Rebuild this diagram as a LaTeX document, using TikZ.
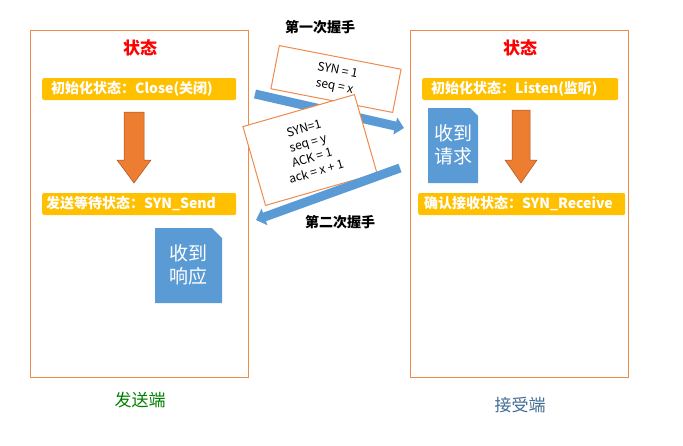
\documentclass[tikz,border=0pt]{standalone}
\usepackage{fontspec}
\setmainfont{Noto Sans CJK SC}
\usetikzlibrary{arrows.meta}
\definecolor{obord}{HTML}{F08A4B}
\definecolor{ybar}{HTML}{FFC000}
\definecolor{bnote}{HTML}{5B9BD5}
\definecolor{oarrow}{HTML}{ED7D31}
\tikzset{
 panel/.style={draw=obord,line width=1pt},
 bar/.style={fill=ybar,rounded corners=2pt,text=white,font=\fontsize{14}{15}\selectfont\bfseries,inner sep=0pt,minimum height=22pt,anchor=west,text width=#1,align=left},
 title/.style={text=red,font=\fontsize{17}{18}\selectfont\bfseries},
 msg/.style={draw=obord,fill=white,line width=1pt,align=center,font=\fontsize{12}{14}\selectfont,inner sep=0pt},
 lbl/.style={font=\fontsize{14}{15}\selectfont\bfseries},
 notetext/.style={text=white,font=\fontsize{19}{23}\selectfont,align=center},
 flow/.style={-{Triangle[length=9pt,width=17pt]},line width=9pt,draw=bnote},
 down/.style={fill=oarrow,draw=oarrow!70!black,line width=0.5pt},
}
\begin{document}
\begin{tikzpicture}[x=1pt,y=-1pt]
\useasboundingbox[fill=white] (0,0) rectangle (683,445);
\draw[panel] (30,30) rectangle (248,377);
\draw[panel] (410,30) rectangle (628,377);
\node[title] (t1) at (140,48) {状态};
\node[title] (t2) at (520,48) {状态};
\node[bar=194pt] (b1) at (42,89) {\hspace{9pt}初始化状态：Close(关闭)};
\node[bar=194pt] (b2) at (42,204) {\hspace{4pt}发送等待状态：SYN\_Send};
\node[bar=196pt] (b3) at (422,89) {\hspace{9pt}初始化状态：Listen(监听)};
\node[bar=207pt] (b4) at (418,204) {\hspace{6pt}确认接收状态：SYN\_Receive};
\draw[down] (124,112) -- (144,112) -- (144,160) -- (151,160) -- (134,183) -- (117,160) -- (124,160) -- cycle;
\draw[down] (512,110) -- (530,110) -- (530,160) -- (537,160) -- (521,183) -- (505,160) -- (512,160) -- cycle;
\fill[bnote] (155,228) -- (212,228) -- (222,238) -- (222,303) -- (155,303) -- cycle;
\node[notetext] (n1) at (188,265) {收到\\响应};
\fill[bnote] (428,108) -- (470,108) -- (478,116) -- (478,183) -- (428,183) -- cycle;
\node[notetext] (n2) at (453,145) {收到\\请求};
\node[lbl] (l1) at (320,27) {第一次握手};
\node[lbl] (l2) at (340,222) {第二次握手};
\coordinate (a1s) at (255,94);
\coordinate (a1e) at (404,128);
\node[msg,rotate=-11,minimum width=124pt,minimum height=44pt] (m1) at (336,79) {SYN = 1\\[2pt]seq = x};
\draw[flow] (a1s) -- (a1e);
\node[msg,rotate=16,minimum width=116pt,minimum height=82pt] (m2) at (310,150) {SYN=1\\[1pt]seq = y\\[1pt]ACK = 1\\[1pt]ack = x + 1};
\coordinate (a2s) at (400,168);
\coordinate (a2e) at (256,220);
\draw[flow] (a2s) -- (a2e);
\node[font=\fontsize{17}{18}\selectfont,text=green!50!black] (s) at (140,400) {发送端};
\node[font=\fontsize{17}{18}\selectfont,text=bnote!70!black] (r) at (520,405) {接受端};
\end{tikzpicture}
\end{document}
